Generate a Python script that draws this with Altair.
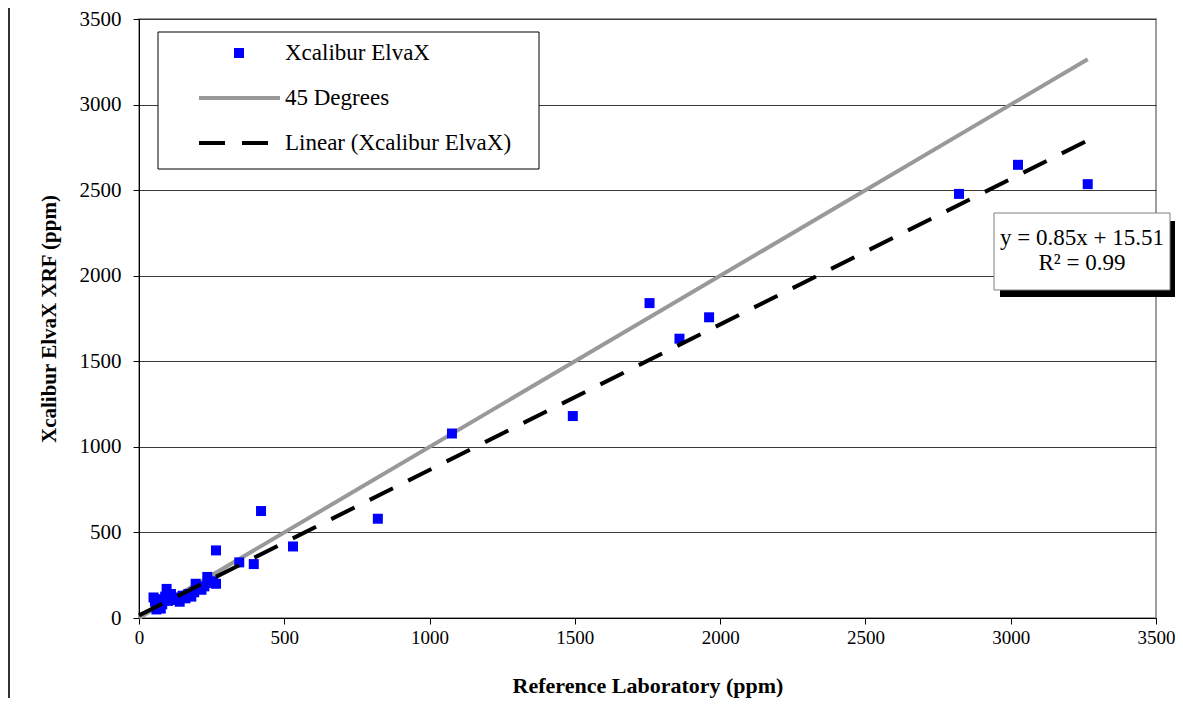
import altair as alt
import pandas as pd

ref_lab = [3265, 3025, 2822, 1962, 1860, 1757, 1493, 1077, 822, 530, 420, 265, 395, 345,
           50, 55, 60, 65, 70, 75, 80, 90, 95, 100, 110, 120, 130, 140, 150, 160, 170,
           180, 190, 195, 205, 215, 225, 235, 245, 255, 265]
xrf = [2535, 2648, 2478, 1757, 1632, 1840, 1180, 1078, 580, 418, 625, 395, 315, 325,
       120, 95, 50, 65, 110, 55, 80, 125, 170, 100, 140, 105, 120, 95, 130, 115, 140,
       125, 150, 200, 175, 165, 185, 240, 205, 215, 200]

slope = 0.85
intercept = 15.51
x_max = max(ref_lab)

axis_ticks = [0, 500, 1000, 1500, 2000, 2500, 3000, 3500]

series_name = "Xcalibur ElvaX"
line45_name = "45 Degrees"
trend_name = "Linear (Xcalibur ElvaX)"
eq_line1 = "y = 0.85x + 15.51"
eq_line2 = "R\u00b2 = 0.99"

pts = pd.DataFrame({"ref": ref_lab, "xrf": xrf})
line45 = pd.DataFrame({"ref": [0, x_max], "xrf": [0, x_max]})
trend = pd.DataFrame({"ref": [0, x_max], "xrf": [intercept, slope * x_max + intercept]})

FONT = "Liberation Serif"

xs = alt.Scale(domain=[0, 3500], nice=False)
ys = alt.Scale(domain=[0, 3500], nice=False)

x_axis = alt.Axis(values=axis_ticks, format="d", title="Reference Laboratory (ppm)", grid=False,
                  labelFont=FONT, labelFontSize=19, labelColor="black",
                  titleFont=FONT, titleFontSize=22, titleFontWeight="bold", titleColor="black",
                  domainColor="black", tickColor="black", tickSize=6, labelPadding=4,
                  titlePadding=28, labelFlush=False)
y_axis = alt.Axis(values=axis_ticks, format="d", title="Xcalibur ElvaX XRF (ppm)", grid=True,
                  gridColor="#3a3a3a", gridWidth=1,
                  labelFont=FONT, labelFontSize=21, labelColor="black",
                  titleFont=FONT, titleFontSize=21, titleFontWeight="bold", titleColor="black",
                  domainColor="black", tickColor="black", tickSize=6, labelPadding=12,
                  titlePadding=20, labelFlush=False)

base_x = alt.X("ref:Q", scale=xs, axis=x_axis)
base_y = alt.Y("xrf:Q", scale=ys, axis=y_axis)

gray = alt.Chart(line45).mark_line(color="#999999", strokeWidth=4).encode(x=base_x, y=base_y)
points = alt.Chart(pts).mark_square(color="#0000ff", opacity=1, size=100).encode(
    x=alt.X("ref:Q", scale=xs), y=alt.Y("xrf:Q", scale=ys))
dashed = alt.Chart(trend).mark_line(color="black", strokeWidth=4, strokeDash=[26, 17]).encode(
    x=alt.X("ref:Q", scale=xs), y=alt.Y("xrf:Q", scale=ys))

one = pd.DataFrame({"a": [0]})

# Legend box (decoration)
leg_box = alt.Chart(one).mark_rect(fill="white", stroke="black", strokeWidth=1).encode(
    x=alt.value(19), x2=alt.value(400), y=alt.value(13), y2=alt.value(150))
leg_sq = alt.Chart(one).mark_square(color="#0000ff", opacity=1, size=100).encode(
    x=alt.value(100), y=alt.value(34))
leg_gray = alt.Chart(one).mark_rule(color="#999999", strokeWidth=4).encode(
    x=alt.value(60), x2=alt.value(141), y=alt.value(79))
leg_dash = alt.Chart(one).mark_rule(color="black", strokeWidth=4, strokeDash=[26, 17]).encode(
    x=alt.value(60), x2=alt.value(134), y=alt.value(124))
leg_txt = alt.Chart(pd.DataFrame({"t": [series_name, line45_name, trend_name],
                                  "yy": [34, 79, 124]})).mark_text(
    align="left", baseline="middle", font=FONT, fontSize=23, color="black").encode(
    x=alt.value(146), y=alt.Y("yy:Q", scale=None), text="t:N")

# Equation box with shadow
eq_shadow = alt.Chart(one).mark_rect(fill="black").encode(
    x=alt.value(861), x2=alt.value(1036), y=alt.value(202), y2=alt.value(278))
eq_box = alt.Chart(one).mark_rect(fill="white", stroke="#808080", strokeWidth=1).encode(
    x=alt.value(855), x2=alt.value(1031), y=alt.value(194), y2=alt.value(271))
eq_txt = alt.Chart(pd.DataFrame({"t": [eq_line1, eq_line2], "yy": [219, 244]})).mark_text(
    align="center", baseline="middle", font=FONT, fontSize=23, color="black").encode(
    x=alt.value(943), y=alt.Y("yy:Q", scale=None), text="t:N")

# Chart-area left frame line
frame = alt.Chart(one).mark_rule(color="#333333", strokeWidth=2).encode(
    x=alt.value(-130), y=alt.value(-30), y2=alt.value(720))

chart = alt.layer(
    gray, points, dashed,
    leg_box, leg_sq, leg_gray, leg_dash, leg_txt,
    eq_shadow, eq_box, eq_txt, frame
).properties(
    width=1017, height=599,
    autosize=alt.AutoSizeParams(type="none"),
    padding={"left": 131, "top": 11, "right": 19, "bottom": 80},
    background="white"
).configure_view(stroke="#808080", strokeWidth=1.5)

chart.save("out.html", embed_options={"renderer": "svg", "actions": False})
